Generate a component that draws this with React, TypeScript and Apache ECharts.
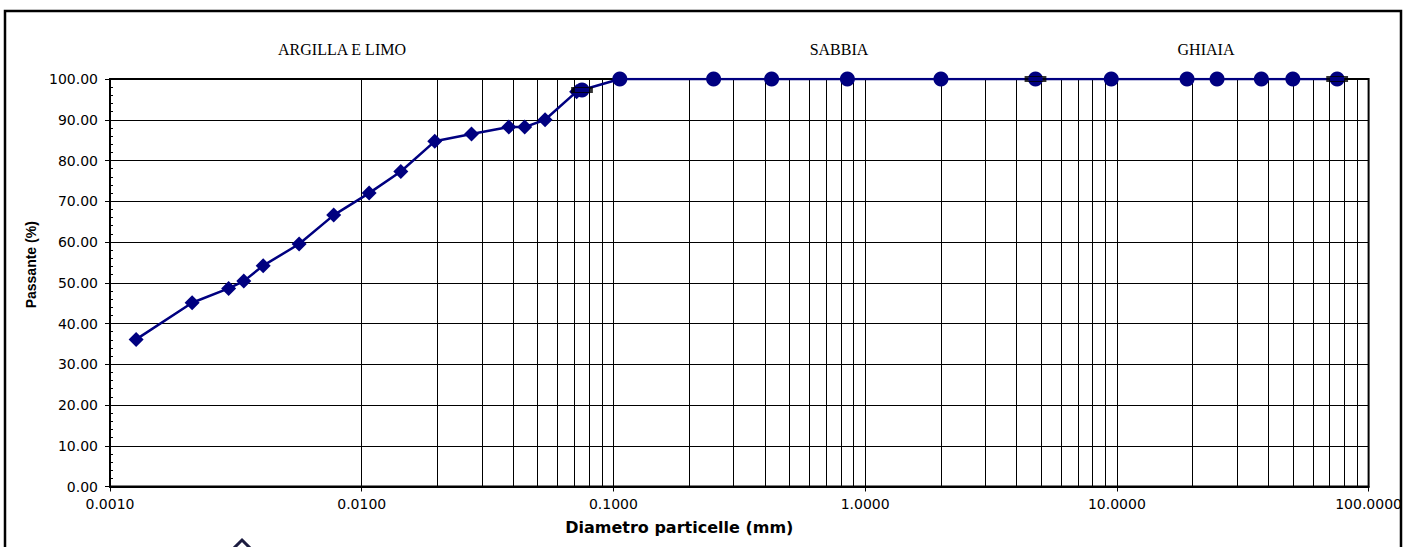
import React, { useEffect, useRef } from "react";
import * as echarts from "echarts";

// Hydrometer analysis (diamonds)
const hydroDiam = [0.00127, 0.00212, 0.00296, 0.0034, 0.00406, 0.00564, 0.00774, 0.0107, 0.0143, 0.0195, 0.0273, 0.0384, 0.0444, 0.0535, 0.0714];
const hydroPass = [36.1, 45.1, 48.6, 50.4, 54.2, 59.5, 66.6, 72.0, 77.3, 84.7, 86.5, 88.2, 88.2, 90.0, 96.9];
// Sieve analysis (circles)
const sieveDiam = [0.075, 0.106, 0.25, 0.425, 0.85, 2.0, 4.75, 9.5, 19, 25, 37.5, 50, 75];
const sievePass = [97.3, 100, 100, 100, 100, 100, 100, 100, 100, 100, 100, 100, 100];
// Class limits (dash markers)
const limitDiam = [0.075, 4.75, 75];
const limitPass = [97.3, 100, 100];
// Grid values
const decades = [0.001, 0.01, 0.1, 1, 10, 100];
const minorMult = [2, 3, 4, 5, 6, 7, 8, 9];
const regionLabels = ["ARGILLA E LIMO", "SABBIA", "GHIAIA"];
const xTitle = "Diametro particelle (mm)";
const yTitle = "Passante (%)";

const NAVY = "#000080";

export default function App() {
  const ref = useRef<HTMLDivElement>(null);
  useEffect(() => {
    document.body.style.margin = "0";
    const chart = echarts.init(ref.current!, undefined, { renderer: "svg" });
    const gridX: number[] = [];
    decades.forEach((d, i) => {
      gridX.push(d);
      if (i < decades.length - 1) minorMult.forEach((m) => gridX.push(d * m));
    });
    const pairs = (xs: number[], ys: number[]) => xs.map((x, i) => [x, ys[i]]);
    const tickFont = { fontFamily: "DejaVu Sans", fontSize: 14, color: "#000" };
    chart.setOption({
      animation: false,
      backgroundColor: "#fff",
      grid: {
        left: 110, right: 35.5, top: 79, bottom: 60.5,
        show: true, borderColor: "#000", borderWidth: 2, backgroundColor: "transparent",
      },
      xAxis: {
        type: "log", logBase: 10, min: 0.001, max: 100, splitNumber: 5,
        axisLine: { lineStyle: { color: "#000", width: 2 } },
        axisTick: { show: true, length: 5, lineStyle: { color: "#000" } },
        splitLine: { show: false },
        axisLabel: { ...tickFont, margin: 10, showMinLabel: true, showMaxLabel: true,
          formatter: (v: number) => v.toFixed(4) },
        name: xTitle, nameLocation: "middle", nameGap: 33,
        nameTextStyle: { fontFamily: "DejaVu Sans", fontWeight: "bold", fontSize: 16, color: "#000",
          padding: [0, 120, 0, 0] },
      },
      yAxis: [
        {
          type: "value", min: 0, max: 100, interval: 10,
          axisLine: { show: true, lineStyle: { color: "#000", width: 2 } },
          axisTick: { show: true, length: 5, lineStyle: { color: "#000" } },
          splitLine: { show: true, lineStyle: { color: "#000", width: 1 } },
          axisLabel: { ...tickFont, margin: 12, formatter: (v: number) => v.toFixed(2) },
          name: yTitle, nameLocation: "middle", nameGap: 70,
          nameTextStyle: { fontFamily: "Liberation Sans", fontWeight: "bold", fontSize: 14, color: "#000",
            padding: [0, 0, 0, 36] },
        },
        {
          type: "value", min: 0, max: 100, interval: 2, position: "left",
          axisLine: { show: false },
          axisTick: { show: true, inside: true, length: 3, lineStyle: { color: "#000" } },
          axisLabel: { show: false },
          splitLine: { show: false },
        },
      ],
      series: [
        {
          type: "line", data: pairs(hydroDiam, hydroPass), z: 3,
          symbol: "diamond", symbolSize: 15,
          lineStyle: { color: NAVY, width: 2.5 }, itemStyle: { color: NAVY },
          markLine: {
            silent: true, symbol: "none", z: 1, label: { show: false },
            lineStyle: { color: "#000", width: 1, type: "solid" },
            emphasis: { disabled: true },
            data: gridX.map((v) => ({ xAxis: v })),
          },
        },
        {
          type: "line", data: pairs(sieveDiam, sievePass), z: 3,
          symbol: "circle", symbolSize: 15,
          lineStyle: { color: NAVY, width: 2.5 }, itemStyle: { color: NAVY },
        },
        {
          type: "scatter", data: pairs(limitDiam, limitPass), z: 4,
          symbol: "rect", symbolSize: [18, 5],
          itemStyle: { color: "rgba(0,0,0,0)", borderColor: "#000", borderWidth: 2 },
        },
      ],
      graphic: [
        { type: "rect", shape: { x: 5, y: 11, width: 1396, height: 600 },
          style: { fill: "none", stroke: "#000", lineWidth: 2.5 }, silent: true },
        { type: "text", x: 342, y: 49, style: { text: regionLabels[0], fontFamily: "Liberation Serif", fontSize: 16, fill: "#000", align: "center", verticalAlign: "middle" } },
        { type: "text", x: 839, y: 49, style: { text: regionLabels[1], fontFamily: "Liberation Serif", fontSize: 16, fill: "#000", align: "center", verticalAlign: "middle" } },
        { type: "text", x: 1206, y: 49, style: { text: regionLabels[2], fontFamily: "Liberation Serif", fontSize: 16, fill: "#000", align: "center", verticalAlign: "middle" } },
        { type: "polygon", shape: { points: [[242, 540], [252, 550], [242, 560], [232, 550]] },
          style: { fill: "none", stroke: "#1c1c40", lineWidth: 3 }, silent: true },
      ],
    });
    return () => chart.dispose();
  }, []);
  return <div ref={ref} style={{ position: "absolute", left: 0, top: 0, width: 1405, height: 547 }} />;
}
